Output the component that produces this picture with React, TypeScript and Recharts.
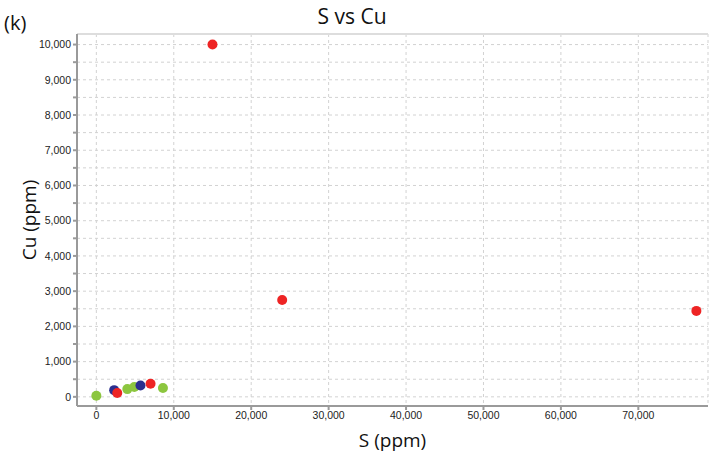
import React from 'react';
import { ScatterChart, Scatter, XAxis, YAxis, CartesianGrid, ReferenceLine, Label } from 'recharts';

const redS = [15000, 24000, 77500, 2700, 7000];
const redCu = [10000, 2750, 2440, 110, 370];
const blueS = [2300, 5700];
const blueCu = [190, 320];
const greenS = [0, 4000, 4900, 8600];
const greenCu = [30, 220, 280, 250];

const xTicks = [0, 10000, 20000, 30000, 40000, 50000, 60000, 70000];
const yTicks = [0, 500, 1000, 1500, 2000, 2500, 3000, 3500, 4000, 4500, 5000, 5500, 6000, 6500, 7000, 7500, 8000, 8500, 9000, 9500, 10000];

const toPts = (xs: number[], ys: number[]) => xs.map((x, i) => ({ x, y: ys[i] }));
const red = toPts(redS, redCu);
const blue = toPts(blueS, blueCu);
const green = toPts(greenS, greenCu);

const fmt = (v: number) => v.toLocaleString('en-US');

const dot = (color: string) => (props: any) => (
  <circle cx={props.cx} cy={props.cy} r={5} fill={color} />
);

const tickStyle = { fontSize: 10.5, fill: '#222', fontFamily: 'Liberation Sans, Arial, sans-serif' };

export default function App() {
  return (
    <div style={{ position: 'absolute', left: 0, top: 0, width: 710, height: 461, background: '#fff' }}>
      <ScatterChart width={710} height={461} margin={{ top: 34, right: 2, bottom: 25, left: 17 }} style={{ position: 'absolute', left: 0, top: 0 }}>
        <CartesianGrid strokeDasharray="3 3" stroke="#d2d2d2" />
        <XAxis
          type="number"
          dataKey="x"
          domain={[-2500, 79000]}
          ticks={xTicks}
          tickFormatter={fmt}
          tick={tickStyle}
          stroke="#9a9a9a"
          strokeWidth={2}
          tickSize={4}
          height={30}
          allowDataOverflow
        >
          <Label value="S (ppm)" position="bottom" offset={-2} style={{ fontSize: 19, fill: '#111', fontFamily: 'Open Sans, sans-serif' }} />
        </XAxis>
        <YAxis
          type="number"
          dataKey="y"
          domain={[-260, 10300]}
          ticks={yTicks}
          tickFormatter={(v: number) => (v % 1000 === 0 ? fmt(v) : '')}
          tick={tickStyle}
          stroke="#9a9a9a"
          strokeWidth={2}
          tickSize={4}
          width={60}
          interval={0}
          allowDataOverflow
        >
          <Label value="Cu (ppm)" angle={-90} position="insideLeft" offset={12} style={{ fontSize: 19, fill: '#111', fontFamily: 'Open Sans, sans-serif', textAnchor: 'middle' }} />
        </YAxis>
        <ReferenceLine y={10300} stroke="#dddddd" strokeWidth={2} />
        <Scatter data={green} shape={dot('#8cc63f')} isAnimationActive={false} />
        <Scatter data={blue} shape={dot('#2b2f8f')} isAnimationActive={false} />
        <Scatter data={red} shape={dot('#ee2424')} isAnimationActive={false} />
      </ScatterChart>
      <svg style={{ position: 'absolute', left: 0, top: 0, pointerEvents: 'none' }} width={710} height={50}>
        <text x={352} y={24} textAnchor="middle" fontSize={21} fontFamily="Open Sans, sans-serif" fill="#111">S vs Cu</text>
        <text x={4} y={30} fontSize={20} fontFamily="Open Sans, sans-serif" fill="#111">(k)</text>
      </svg>
    </div>
  );
}
